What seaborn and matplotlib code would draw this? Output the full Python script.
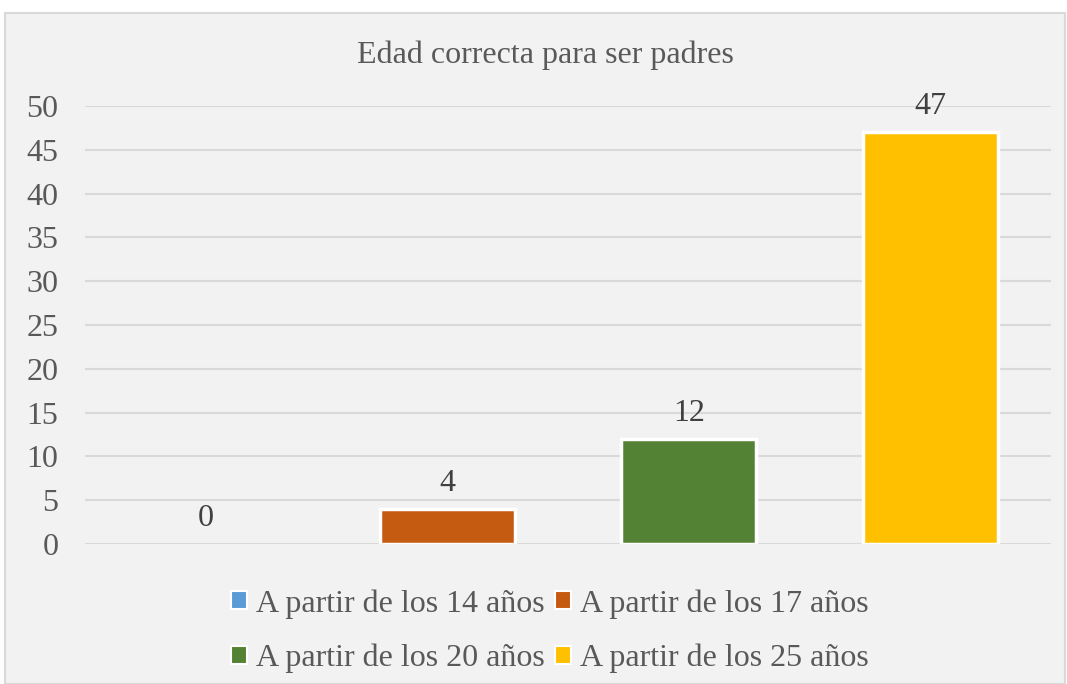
import matplotlib
matplotlib.use("Agg")
import matplotlib.pyplot as plt
import seaborn as sns
import pandas as pd
from matplotlib.patches import Rectangle

# Data
categories = [
    "A partir de los 14 años",
    "A partir de los 17 años",
    "A partir de los 20 años",
    "A partir de los 25 años",
]
values = [0, 4, 12, 47]
colors = ["#5B9BD5", "#C55A11", "#548235", "#FFC000"]
y_ticks = [0, 5, 10, 15, 20, 25, 30, 35, 40, 45, 50]
title = "Edad correcta para ser padres"

sns.set_style("white")
plt.rcParams["font.family"] = ["Liberation Serif", "DejaVu Serif"]

df = pd.DataFrame({"cat": categories, "val": values})

fig = plt.figure(figsize=(10.67, 6.84), dpi=100)
fig.patch.set_facecolor("white")
# chart area frame, kept behind the axes
fig.patches.append(
    Rectangle((5 / 1067, 0), 1060 / 1067, 1 - 13 / 684, transform=fig.transFigure,
              facecolor="#F2F2F2", edgecolor="#D9D9D9", linewidth=1.5, zorder=-5)
)

ax = fig.add_axes([85 / 1067, 1 - 544 / 684, (1051 - 85) / 1067, (544 - 106) / 684])
ax.set_facecolor("none")

sns.barplot(data=df, x="cat", y="val", hue="cat", palette=colors, width=0.56,
            saturation=1, edgecolor="white", linewidth=2.5, ax=ax, legend=True,
            zorder=3)

# empty bars show no outline
for p in ax.patches:
    if p.get_height() == 0:
        p.set_linewidth(0)

for cont in ax.containers:
    ax.bar_label(cont, padding=8, fontsize=23, color="#404040")

ax.set_ylim(0, 50)
ax.set_yticks(y_ticks)
ax.set_xticks([])
ax.set_xlabel("")
ax.set_ylabel("")
ax.tick_params(axis="y", length=0, labelsize=23, labelcolor="#595959", pad=19)
ax.yaxis.grid(True, color="#D9D9D9", linewidth=1.5, zorder=0)
ax.set_axisbelow(True)
for s in ax.spines.values():
    s.set_visible(False)

handles, labels = ax.get_legend_handles_labels()
ax.get_legend().remove()
for h in handles:
    h.set_edgecolor("white")
    h.set_linewidth(1.5)
# legend is filled row by row in the reference
order = [0, 2, 1, 3]
fig.legend([handles[i] for i in order], [labels[i] for i in order],
           loc="center", bbox_to_anchor=(550 / 1067, 1 - 631 / 684),
           ncol=2, frameon=False, fontsize=23, labelcolor="#595959",
           handlelength=0.5, handleheight=0.5, handletextpad=0.3,
           columnspacing=0.3, labelspacing=0.78)

fig.text(545 / 1067, 1 - 55 / 684, title, ha="center", va="center",
         fontsize=23, color="#595959")

fig.savefig("out.png", dpi=100)
